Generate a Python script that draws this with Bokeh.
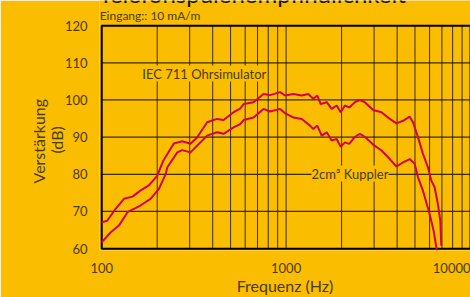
from bokeh.plotting import figure
from bokeh.models import Label, FixedTicker, NumeralTickFormatter, Title
from bokeh.core.properties import value
from bokeh.embed import file_html
from bokeh.resources import INLINE

# ---- data ----
iec_freq = [100, 107, 119, 132, 147, 162, 180, 200, 215, 246, 273, 303, 329, 373, 422, 458, 519, 564,
            588, 666, 754, 819, 928, 988, 1095, 1216, 1320, 1405, 1476, 1540, 1660, 1766, 1880, 1976,
            2084, 2199, 2361, 2512, 2673, 2965, 3291, 3650, 3967, 4307, 4681, 4877, 5190, 5523, 5877,
            6131, 6389, 6656, 6858, 6944]
iec_db = [67.1, 67.5, 70.7, 73.4, 74.0, 75.6, 77.0, 79.6, 83.5, 88.3, 88.9, 88.2, 89.9, 94.0, 94.9, 94.6,
          96.7, 97.7, 98.9, 99.4, 101.6, 101.3, 102.1, 101.2, 101.6, 101.2, 101.6, 100.3, 101.2, 98.9,
          99.4, 97.6, 98.5, 96.7, 98.5, 98.0, 99.4, 100.0, 99.4, 97.3, 96.7, 94.9, 93.7, 94.4, 95.5,
          94.0, 90.0, 85.5, 81.9, 78.3, 76.5, 72.0, 67.5, 60.8]

kup_freq = [100, 112, 124, 138, 162, 184, 204, 222, 227, 257, 273, 303, 329, 373, 422, 458, 519, 564,
            588, 666, 754, 819, 928, 988, 1095, 1216, 1348, 1405, 1476, 1560, 1660, 1766, 1880, 1976,
            2084, 2199, 2361, 2512, 2673, 2965, 3291, 3650, 3967, 4307, 4681, 4982, 5190, 5523, 6002,
            6310, 6573]
kup_db = [61.7, 64.4, 66.2, 69.8, 71.6, 73.4, 76.0, 80.0, 81.9, 85.9, 86.5, 85.9, 87.7, 90.4, 91.3, 90.9,
          92.6, 93.5, 94.6, 95.3, 97.6, 96.9, 97.6, 96.4, 95.3, 94.9, 93.1, 92.2, 93.1, 90.4, 91.3, 89.1,
          89.5, 87.4, 88.6, 88.2, 90.1, 90.9, 90.1, 88.0, 86.4, 84.1, 82.1, 83.2, 84.1, 82.8, 79.2, 75.6,
          69.3, 64.8, 59.5]

x_major = [100, 1000, 10000]
x_minor = [200, 300, 400, 500, 600, 700, 800, 900, 2000, 3000, 4000, 5000, 6000, 7000, 8000, 9000]
y_ticks = [60, 70, 80, 90, 100, 110, 120]

title_text = "Telefonspulenempfindlichkeit"
subtitle_text = "Eingang:: 10 mA/m"
iec_label = "IEC 711 Ohrsimulator"
kup_label = "2cm³ Kuppler"
y_label_1 = "Verstärkung"
y_label_2 = "(dB)"
x_label = "Frequenz (Hz)"

BG = "#FBBD00"
RED = "#D6004E"
TXT = "#4a3b00"
GRID = "#1a1400"
FONT = "Lato"

# the frame reaches the top of the canvas so that the heading can sit above the 120 dB line
p = figure(width=470, height=297, x_axis_type="log", x_range=(97.3, 10000), y_range=(59.5, 126.76),
           output_backend="svg", toolbar_location=None,
           min_border_left=99, min_border_right=0, min_border_top=0, min_border_bottom=47)
p.background_fill_color = BG
p.border_fill_color = BG
p.outline_line_color = None
p.xgrid.visible = False
p.ygrid.visible = False

p.xaxis.ticker = FixedTicker(ticks=x_major, minor_ticks=x_minor)
p.xaxis.formatter = NumeralTickFormatter(format="0")
p.yaxis.ticker = FixedTicker(ticks=y_ticks)
for ax in (p.xaxis, p.yaxis):
    ax.axis_line_color = None
    ax.major_tick_line_color = None
    ax.minor_tick_line_color = None
    ax.major_tick_out = 0
    ax.minor_tick_out = 0
    ax.major_label_text_font = FONT
    ax.major_label_text_font_size = "13px"
    ax.major_label_text_color = TXT
    ax.axis_label_text_font = FONT
    ax.axis_label_text_font_size = "16px"
    ax.axis_label_text_font_style = "normal"
    ax.axis_label_text_color = TXT
p.yaxis.major_label_standoff = 12
p.xaxis.major_label_standoff = 12
p.xaxis.axis_label = x_label
p.xaxis.axis_label_standoff = 0

# grid lines and frame drawn between the first and last ticks
x_lines = x_major + x_minor
p.segment(x0=x_lines, y0=[y_ticks[0]] * len(x_lines), x1=x_lines, y1=[y_ticks[-1]] * len(x_lines),
          line_color=GRID, line_alpha=0.85, line_width=1)
y_inner = y_ticks[1:-1]
p.segment(x0=[x_major[0]] * len(y_inner), y0=y_inner, x1=[x_major[-1]] * len(y_inner), y1=y_inner,
          line_color=GRID, line_alpha=0.85, line_width=1.3)
p.quad(left=[x_major[0]], right=[x_major[-1]], bottom=[y_ticks[0]], top=[y_ticks[-1]],
       fill_color=None, line_color="black", line_width=2)

p.line(iec_freq, iec_db, line_color=RED, line_width=2)
p.line(kup_freq, kup_db, line_color=RED, line_width=2)

p.add_layout(Label(x=166, y=107.1, text=iec_label, text_font=FONT, text_font_size="13px",
                   text_color=TXT, text_baseline="middle", text_align="left",
                   background_fill_color=BG, border_line_color=None))
p.add_layout(Label(x=2220, y=80.2, text=kup_label, text_font=FONT, text_font_size="13px",
                   text_color=TXT, text_baseline="middle", text_align="center",
                   background_fill_color=BG, border_line_color=None))

# heading (cut by the top edge, as in the reference) and subheading above the 120 dB line
p.text(x=[x_major[0]], y=[128.6], text=[title_text], text_font=value(FONT), text_font_size="24px",
       text_color="#1a1400", text_baseline="alphabetic", text_align="left", x_offset=-3)
p.text(x=[x_major[0]], y=[122.69], text=[subtitle_text], text_font=value(FONT), text_font_size="12px",
       text_color=TXT, text_baseline="middle", text_align="left", x_offset=-2)

# y-axis label as two left-side titles (first added sits nearest the axis)
p.add_layout(Title(text=y_label_2, align="left", offset=97, standoff=-8,
                   text_font=FONT, text_font_size="16px", text_font_style="normal",
                   text_color=TXT), "left")
p.add_layout(Title(text=y_label_1, align="left", offset=67, standoff=1,
                   text_font=FONT, text_font_size="16px", text_font_style="normal",
                   text_color=TXT), "left")

open("out.html", "w").write(file_html(p, INLINE))
